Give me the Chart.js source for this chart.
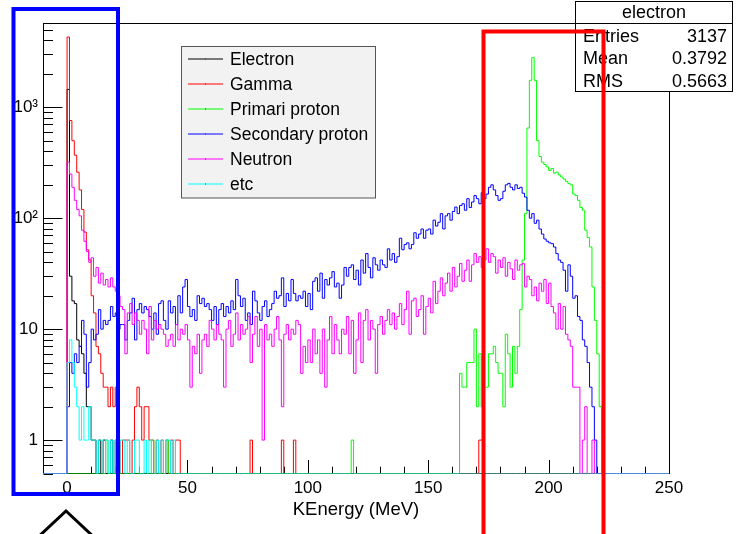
<!DOCTYPE html>
<html>
<head>
<meta charset="utf-8">
<script src="https://cdn.jsdelivr.net/npm/chart.js@4.4.1/dist/chart.umd.min.js"></script>
<style>
  html, body { margin: 0; padding: 0; background: #fff; }
</style>
</head>
<body>
<canvas id="c" width="740" height="534"></canvas>
<script>
// histogram axis: 1 MeV bins from -10 to 250 MeV
const X_MIN = -10, X_MAX = 250;
const Y_MIN = 0.5, Y_MAX = 5750;

const xTickValues = [0, 50, 100, 150, 200, 250];
const yTickValues = [1, 10, 100, 1000];
const yTickLabels = ['1', '10', '10\u00b2', '10\u00b3'];

const seriesNames = ['Electron', 'Gamma', 'Primari proton', 'Secondary proton', 'Neutron', 'etc'];
const seriesColors = ['#000000', '#ff0000', '#00ff00', '#0000ff', '#ff00ff', '#00ffff'];

// counts per bin, first entry is the bin starting at "start" MeV
const electronStart = 0;
const electron = [1450, 30, 18, 17, 8, 7, 6, 4, 2, 2, 1, 1, 0, 1, 0, 1, 0, 0, 1, 0, 1];
const electronExtra = [];

const gammaStart = 0;
const gamma = [4300, 760, 500, 370, 260, 180, 120, 75, 52, 42, 20, 14, 7, 6, 4, 3, 3, 2, 3, 2,
  3, 1, 0, 1, 1, 1, 0, 1, 2, 3, 2, 1, 2, 2, 1, 1, 0, 1, 0, 1, 0, 1, 0, 1, 0, 1, 1];
const gammaExtra = [[76, 1], [89, 1], [94, 1], [171, 1], [172, 1]];

const primaryStart = 160;
const primary = [0, 0, 0, 4, 3, 3, 5, 5, 5, 10, 2, 6, 2, 3, 3, 6, 6, 7, 5, 4,
  4, 2, 9, 6, 3, 7, 4, 7, 15, 42, 110, 650, 1750, 2800, 1750, 500, 360, 320, 305, 290,
  270, 280, 255, 260, 245, 235, 225, 215, 205, 200, 165, 160, 145, 125, 118, 78, 67, 55, 24, 12,
  6, 2, 0];
const primaryExtra = [[16, 1], [35, 1], [41, 1], [118, 1]];

const secondaryStart = 0;
const secondary = [2, 5, 4, 6, 5, 7, 12, 9, 3, 5, 10, 8, 9, 15, 10, 12, 11, 12, 16, 13,
  14, 10, 11, 11, 8, 12, 14, 19, 8, 15, 17, 14, 16, 15, 13, 10, 14, 9, 17, 18,
  12, 10, 18, 14, 16, 11, 20, 14, 24, 28, 16, 13, 15, 12, 20, 17, 19, 16, 17, 15,
  12, 16, 11, 15, 17, 13, 16, 14, 18, 15, 28, 20, 16, 19, 12, 14, 11, 22, 18, 14,
  12, 16, 18, 13, 15, 17, 22, 19, 20, 29, 16, 21, 18, 28, 21, 18, 20, 19, 22, 16,
  21, 15, 27, 29, 22, 32, 19, 28, 25, 29, 33, 24, 26, 19, 25, 36, 30, 36, 38, 28,
  34, 25, 42, 32, 48, 36, 29, 44, 38, 34, 42, 38, 36, 53, 42, 48, 40, 45, 66, 52,
  58, 60, 53, 58, 74, 66, 72, 80, 66, 78, 80, 72, 96, 85, 92, 110, 80, 105, 110, 96,
  115, 126, 110, 130, 135, 118, 150, 125, 140, 160, 150, 135, 170, 150, 165, 190, 200, 180, 160, 145,
  150, 175, 200, 206, 190, 180, 200, 185, 190, 168, 155, 118, 100, 110, 90, 96, 80, 72, 65, 62,
  60, 59, 55, 48, 42, 40, 34, 22, 38, 30, 19, 20, 13, 12, 8, 7, 5, 3, 2, 1, 0];
const secondaryExtra = [];

const neutronStart = 0;
const neutron = [320, 250, 190, 145, 120, 105, 78, 62, 50, 40, 44, 30, 36, 26, 32, 25, 28, 24, 29, 24,
  22, 20, 16, 15, 6, 14, 17, 11, 14, 12, 9, 12, 10, 6, 16, 8, 12, 10, 11, 10,
  9, 7, 8, 9, 7, 11, 8, 10, 9, 11, 8, 3, 7, 6, 9, 4, 8, 9, 7, 12,
  10, 8, 11, 9, 8, 3, 10, 12, 7, 9, 14, 8, 11, 9, 10, 13, 5, 9, 13, 7,
  10, 1, 11, 8, 9, 7, 10, 13, 8, 2, 9, 11, 8, 10, 9, 12, 11, 4, 7, 5,
  8, 5, 10, 6, 8, 4, 10, 3, 8, 13, 6, 11, 8, 6, 10, 9, 13, 6, 12, 4,
  8, 14, 5, 12, 15, 8, 12, 10, 4, 11, 13, 9, 12, 15, 11, 14, 10, 13, 17, 11,
  15, 22, 9, 18, 19, 13, 15, 20, 9, 16, 19, 14, 27, 17, 22, 29, 20, 26, 32, 22,
  36, 24, 30, 39, 27, 34, 42, 27, 38, 48, 40, 45, 36, 42, 53, 40, 48, 45, 32, 42,
  36, 44, 30, 40, 35, 28, 42, 34, 38, 39, 24, 30, 28, 20, 24, 18, 26, 22, 28, 17,
  26, 16, 14, 10, 17, 10, 16, 9, 8, 7, 3, 3, 3, 0, 1, 2, 0, 0, 1, 0];
const neutronExtra = [];

const etcStart = 0;
const etc = [5, 8, 5, 3, 2, 1, 2, 1, 1, 2, 1, 1, 0, 1, 1, 0, 1, 0, 1, 0,
  1, 0, 1, 1, 0, 1, 0, 0, 1, 1, 0, 0, 1, 0, 1, 0, 0, 1, 0, 1, 0, 1, 1, 0, 1, 0];
const etcExtra = [];

// stats box of the electron histogram
const statsTitle = 'electron';
const statsRows = [['Entries', '3137'], ['Mean', '0.3792'], ['RMS', '0.5663']];

// turn bin contents into step points at the low edge of each bin;
// empty bins sit on the bottom of the log axis, as ROOT draws them
function histPoints(counts, start, extra) {
  const pts = [];
  for (let e = X_MIN; e < X_MAX; e++) {
    const i = e - start;
    pts.push({ x: e, y: (i >= 0 && i < counts.length) ? counts[i] : 0 });
  }
  extra.forEach(([e, v]) => { pts[e - X_MIN].y = v; });
  pts.push({ x: X_MAX, y: pts[pts.length - 1].y });
  pts.forEach(p => { if (p.y < Y_MIN) p.y = Y_MIN; });
  return pts;
}

const allSeries = [
  histPoints(electron, electronStart, electronExtra),
  histPoints(gamma, gammaStart, gammaExtra),
  histPoints(primary, primaryStart, primaryExtra),
  histPoints(secondary, secondaryStart, secondaryExtra),
  histPoints(neutron, neutronStart, neutronExtra),
  histPoints(etc, etcStart, etcExtra)
];

const FONT = 'Liberation Sans, Arial, Helvetica, sans-serif';

// ROOT style frame and inner ticks (under the histograms), legend and stats box (over them)
const rootFrame = {
  id: 'rootFrame',
  beforeDatasetsDraw(chart) {
    const ctx = chart.ctx;
    const a = chart.chartArea;
    const xs = chart.scales.x, ys = chart.scales.y;
    const x0 = Math.round(a.left) + 0.5, x1 = Math.round(a.right) + 0.5;
    const y0 = Math.round(a.top) + 0.5, y1 = Math.floor(a.bottom) + 0.5;
    ctx.save();
    ctx.strokeStyle = '#000';
    ctx.lineWidth = 1;
    ctx.strokeRect(x0, y0, x1 - x0, y1 - y0);

    ctx.beginPath();
    for (let v = 0; v < X_MAX; v += 10) {
      const px = Math.round(xs.getPixelForValue(v)) + 0.5;
      const len = v % 50 === 0 ? 13.5 : 6.8;
      ctx.moveTo(px, y1);
      ctx.lineTo(px, y1 - len);
    }
    for (let d = -1; d <= 3; d++) {
      for (let m = 1; m <= 9; m++) {
        const v = m * Math.pow(10, d);
        if (v < Y_MIN || v > Y_MAX) continue;
        const py = Math.round(ys.getPixelForValue(v)) + 0.5;
        const len = m === 1 ? 19 : 9.5;
        ctx.moveTo(x0, py);
        ctx.lineTo(x0 + len, py);
      }
    }
    ctx.stroke();
    ctx.restore();
  },
  afterDatasetsDraw(chart) {
    const ctx = chart.ctx;
    ctx.save();
    ctx.lineWidth = 1;

    // legend
    const lx = 181.5, ly = 46.5, lw = 194, lh = 151.5;
    ctx.fillStyle = '#f2f2f2';
    ctx.fillRect(lx, ly, lw, lh);
    ctx.strokeStyle = '#555';
    ctx.strokeRect(lx, ly, lw, lh);
    ctx.font = '17.5px ' + FONT;
    ctx.textBaseline = 'middle';
    ctx.textAlign = 'left';
    seriesNames.forEach((name, i) => {
      const y = 59 + 25 * i;
      ctx.strokeStyle = seriesColors[i];
      ctx.lineWidth = 1.2;
      ctx.beginPath();
      ctx.moveTo(188, y);
      ctx.lineTo(223, y);
      ctx.stroke();
      ctx.fillStyle = '#333';
      ctx.fillRect(205, y - 0.5, 1, 1);
      ctx.fillStyle = '#000';
      ctx.fillText(name, 230, y + 1);
    });
    ctx.lineWidth = 1;

    // stats box
    const sx = 575.5, sy = 1.5, sw = 157, sh = 90;
    ctx.fillStyle = '#fff';
    ctx.fillRect(sx, sy, sw, sh);
    ctx.strokeStyle = '#000';
    ctx.strokeRect(sx, sy, sw, sh);
    ctx.beginPath();
    ctx.moveTo(sx, 23.5);
    ctx.lineTo(sx + sw, 23.5);
    ctx.stroke();
    ctx.fillStyle = '#000';
    ctx.font = '18px ' + FONT;
    ctx.textAlign = 'center';
    ctx.fillText(statsTitle, sx + sw / 2, 13);
    statsRows.forEach((r, i) => {
      const y = 37 + 22.5 * i;
      ctx.textAlign = 'left';
      ctx.fillText(r[0], 583, y);
      ctx.textAlign = 'right';
      ctx.fillText(r[1], 727, y);
    });
    ctx.restore();
  },
  afterDraw(chart) {
    // hand-drawn markings over the picture
    const ctx = chart.ctx;
    ctx.save();
    ctx.lineWidth = 4;
    ctx.strokeStyle = '#0000ff';
    ctx.strokeRect(13.5, 9, 104.5, 485);
    ctx.strokeStyle = '#ff0000';
    ctx.beginPath();
    ctx.moveTo(483.5, 545);
    ctx.lineTo(483.5, 31.5);
    ctx.lineTo(603.5, 31.5);
    ctx.lineTo(603.5, 545);
    ctx.stroke();
    ctx.lineWidth = 3;
    ctx.strokeStyle = '#000';
    ctx.beginPath();
    ctx.moveTo(35, 540);
    ctx.lineTo(66, 511);
    ctx.lineTo(97, 540);
    ctx.stroke();
    ctx.restore();
  }
};

new Chart(document.getElementById('c'), {
  type: 'line',
  data: {
    datasets: allSeries.map((pts, i) => ({
      label: seriesNames[i],
      data: pts,
      borderColor: seriesColors[i],
      borderWidth: 1,
      stepped: true,
      pointRadius: 0,
      fill: false,
      order: 5 - i
    }))
  },
  options: {
    responsive: false,
    animation: false,
    devicePixelRatio: 1,
    layout: { padding: { top: 23, right: 71, left: 0, bottom: 0 } },
    plugins: { legend: { display: false }, tooltip: { enabled: false } },
    scales: {
      x: {
        type: 'linear',
        min: X_MIN,
        max: X_MAX,
        grid: { display: false, drawTicks: false },
        border: { display: false },
        ticks: { color: '#000', font: { family: FONT, size: 17 }, padding: 5, maxRotation: 0 },
        afterBuildTicks: s => { s.ticks = xTickValues.map(v => ({ value: v })); },
        afterFit: s => { s.height = 60.5; },
        title: {
          display: true,
          text: 'KEnergy (MeV)',
          color: '#000',
          font: { family: FONT, size: 18.5 },
          padding: { top: 0, bottom: 13 }
        }
      },
      y: {
        type: 'logarithmic',
        min: Y_MIN,
        max: Y_MAX,
        grid: { display: false, drawTicks: false },
        border: { display: false },
        ticks: {
          color: '#000',
          font: { family: FONT, size: 17 },
          padding: 5,
          callback: v => yTickLabels[yTickValues.indexOf(v)]
        },
        afterBuildTicks: s => { s.ticks = yTickValues.map(v => ({ value: v })); },
        afterFit: s => { s.width = 43; }
      }
    }
  },
  plugins: [rootFrame]
});
</script>
</body>
</html>
